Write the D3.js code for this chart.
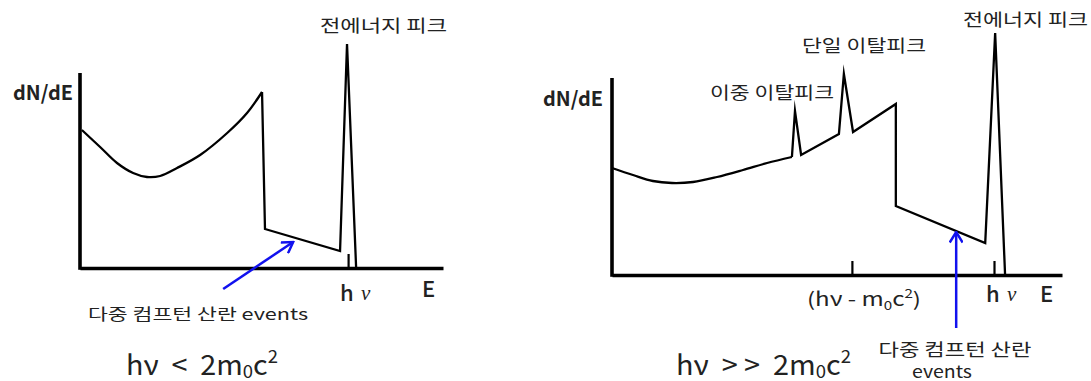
<!DOCTYPE html>
<html>
<head>
<meta charset="utf-8">
<script src="https://cdn.jsdelivr.net/npm/d3@7"></script>
<style>
  html, body { margin: 0; padding: 0; background: #fff; }
  svg { display: block; }
  text { fill: #222; font-family: "Noto Sans CJK KR", "Noto Sans", sans-serif; }
</style>
</head>
<body>
<svg id="chart" width="1091" height="381"></svg>
<script>
// Energy is measured in units of the incident photon energy (hν = 1),
// counts (dN/dE) in arbitrary units.

// ---- Panel 1: hν < 2m0c² ----
const lowContinuum = [
  [0.007, 69], [0.075, 60.5], [0.138, 52.5], [0.198, 47.5], [0.25, 45.5],
  [0.299, 46], [0.362, 50], [0.448, 56.5], [0.549, 67.5], [0.623, 77.5], [0.679, 88]
];
const lowEdgeAndPeak = [
  [0.679, 88], [0.69, 19.5], [0.97, 8.5], [0.996, 112], [1.03, 0]
];
const lowTicks = [1];
const lowArrow = [[0.534, -10.5], [0.795, 13]];

// ---- Panel 2: hν >> 2m0c² ----
const highContinuum = [
  [0.0, 53.5], [0.055, 50], [0.107, 47], [0.157, 46], [0.212, 46.5],
  [0.275, 49], [0.343, 52.5], [0.406, 56], [0.471, 59]
];
const highEscapeAndPeak = [
  [0.471, 59], [0.479, 82], [0.495, 60], [0.594, 70.5], [0.607, 100.5],
  [0.631, 71.5], [0.743, 85.5], [0.743, 34.5], [0.977, 16], [1.003, 121], [1.029, 0]
];
const highTicks = [0.628, 1];
const highArrow = [[0.901, -26.5], [0.901, 21.5]];

const svg = d3.select("#chart");

svg.append("defs").append("marker")
  .attr("id", "arrowhead")
  .attr("viewBox", "0 -7 14 14")
  .attr("refX", 12.5).attr("refY", 0)
  .attr("markerWidth", 14).attr("markerHeight", 14)
  .attr("markerUnits", "userSpaceOnUse")
  .attr("orient", "auto")
  .append("path")
  .attr("d", "M2,-6.5 L12.5,0 L2,6.5")
  .attr("fill", "none").attr("stroke", "#1111ee")
  .attr("stroke-width", 2.5).attr("stroke-linejoin", "miter");

function drawPanel(cfg) {
  const x = d3.scaleLinear().domain(cfg.xDomain).range(cfg.xRange);
  const y = d3.scaleLinear().domain(cfg.yDomain).range(cfg.yRange);
  const g = svg.append("g");

  // x axis with inward tick marks
  const xAxis = d3.axisBottom(x)
    .tickValues(cfg.ticks).tickSize(-14).tickSizeOuter(0).tickFormat("");
  const ax = g.append("g").attr("transform", `translate(0,${y(0)})`).call(xAxis);
  ax.select(".domain").attr("stroke", "#000").attr("stroke-width", 3.6);
  ax.selectAll(".tick line").attr("stroke", "#000").attr("stroke-width", 2.2);

  // y axis
  g.append("line")
    .attr("x1", x(0)).attr("x2", x(0))
    .attr("y1", y(cfg.yAxisTop)).attr("y2", y(0) + 1.8)
    .attr("stroke", "#000").attr("stroke-width", 3.6);

  const smooth = d3.line().x(d => x(d[0])).y(d => y(d[1])).curve(d3.curveCatmullRom.alpha(0.5));
  const straight = d3.line().x(d => x(d[0])).y(d => y(d[1]));

  g.append("path").attr("d", smooth(cfg.continuum))
    .attr("fill", "none").attr("stroke", "#000").attr("stroke-width", 2.3);
  g.append("path").attr("d", straight(cfg.peaks))
    .attr("fill", "none").attr("stroke", "#000").attr("stroke-width", 2.3)
    .attr("stroke-linejoin", "miter").attr("stroke-miterlimit", 20);

  g.append("line")
    .attr("x1", x(cfg.arrow[0][0])).attr("y1", y(cfg.arrow[0][1]))
    .attr("x2", x(cfg.arrow[1][0])).attr("y2", y(cfg.arrow[1][1]))
    .attr("stroke", "#1111ee").attr("stroke-width", 2.5)
    .attr("marker-end", "url(#arrowhead)");

  return { g, x, y };
}

function label(g, txt, px, py, opts = {}) {
  const t = g.append("text").attr("x", px).attr("y", py)
    .attr("font-size", opts.size || 17)
    .attr("text-anchor", opts.anchor || "start")
    .text(txt);
  if (opts.weight) t.attr("font-weight", opts.weight);
  if (opts.family) t.style("font-family", opts.family);
  if (opts.style) t.attr("font-style", opts.style);
  if (opts.len) t.attr("textLength", opts.len).attr("lengthAdjust", "spacingAndGlyphs");
  return t;
}

// hν label under a tick: upright "h" and italic serif "ν"
function hnuLabel(g, cx, baseline) {
  label(g, "h", cx - 15, baseline, { size: 22, weight: 500 });
  label(g, "ν", cx + 6, baseline - 1, { size: 21, style: "italic", family: "'Liberation Serif', serif" });
}

// formula "hν <op> 2m₀c²"
function formula(g, head, px, baseline, len) {
  const t = g.append("text").attr("x", px).attr("y", baseline)
    .attr("font-size", 28).attr("textLength", len).attr("lengthAdjust", "spacingAndGlyphs");
  t.append("tspan").text(head + "2m");
  t.append("tspan").attr("font-size", 18).attr("dy", 3).text("0");
  t.append("tspan").attr("dy", -3).text("c");
  t.append("tspan").attr("font-size", 18).attr("dy", -12).text("2");
}

// ---- Panel 1 ----
const p1 = drawPanel({
  xDomain: [0, 1.354], xRange: [80, 443],
  yDomain: [0, 120], yRange: [268, 28], yAxisTop: 97.5,
  ticks: lowTicks, continuum: lowContinuum, peaks: lowEdgeAndPeak, arrow: lowArrow
});
label(p1.g, "dN/dE", 13, 100, { size: 20, weight: 700, len: 60 });
label(p1.g, "전에너지 피크", 320, 32, { size: 17, len: 127 });
hnuLabel(p1.g, p1.x(1) + 7, 301);
label(p1.g, "E", 422, 297, { size: 22, weight: 500 });
label(p1.g, "다중 컴프턴 산란 events", 88, 320, { size: 16, len: 220 });
formula(p1.g, "hν\u00a0\u00a0<\u00a0\u00a0", 126, 375, 152);

// ---- Panel 2 ----
const p2 = drawPanel({
  xDomain: [0, 1.178], xRange: [612, 1062],
  yDomain: [0, 125], yRange: [275, 25], yAxisTop: 98.5,
  ticks: highTicks, continuum: highContinuum, peaks: highEscapeAndPeak, arrow: highArrow
});
label(p2.g, "dN/dE", 543, 106, { size: 20, weight: 700, len: 60 });
label(p2.g, "이중 이탈피크", 710, 99, { size: 17, len: 124 });
label(p2.g, "단일 이탈피크", 802, 52, { size: 17, len: 124 });
label(p2.g, "전에너지 피크", 963, 26, { size: 17, len: 125 });
hnuLabel(p2.g, p2.x(1) + 7, 302);
label(p2.g, "E", 1040, 302, { size: 22, weight: 500 });

const shift = p2.g.append("text").attr("x", 807).attr("y", 306).attr("font-size", 19)
  .attr("textLength", 114).attr("lengthAdjust", "spacingAndGlyphs");
shift.append("tspan").text("(hν - m");
shift.append("tspan").attr("font-size", 12).attr("dy", 4).text("0");
shift.append("tspan").attr("dy", -4).text("c");
shift.append("tspan").attr("font-size", 12).attr("dy", -8).text("2");
shift.append("tspan").attr("dy", 8).text(")");

label(p2.g, "다중 컴프턴 산란", 955, 356, { size: 17, anchor: "middle", len: 153 });
label(p2.g, "events", 942, 378, { size: 17, anchor: "middle", len: 60 });
formula(p2.g, "hν\u00a0\u00a0>\u00a0>\u00a0\u00a0", 676, 375, 175);
</script>
</body>
</html>
